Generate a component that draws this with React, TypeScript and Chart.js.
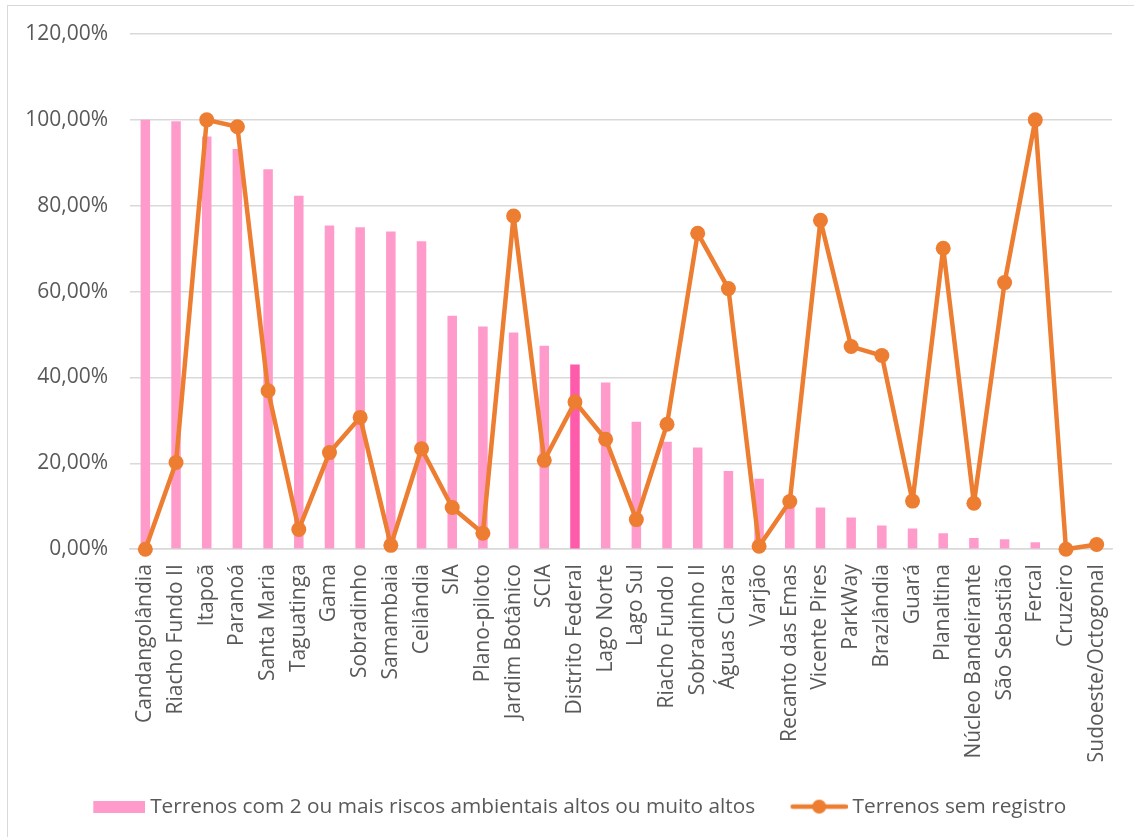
import React, { useEffect, useRef } from "react";
import { Chart, registerables } from "chart.js";

Chart.register(...registerables);

const categories = [
  "Candangolândia", "Riacho Fundo II", "Itapoã", "Paranoá", "Santa Maria", "Taguatinga",
  "Gama", "Sobradinho", "Samambaia", "Ceilândia", "SIA", "Plano-piloto", "Jardim Botânico",
  "SCIA", "Distrito Federal", "Lago Norte", "Lago Sul", "Riacho Fundo I", "Sobradinho II",
  "Águas Claras", "Varjão", "Recanto das Emas", "Vicente Pires", "ParkWay", "Brazlândia",
  "Guará", "Planaltina", "Núcleo Bandeirante", "São Sebastião", "Fercal", "Cruzeiro",
  "Sudoeste/Octogonal",
];

const riscosAltos = [
  100, 99.7, 96.1, 93.2, 88.5, 82.3, 75.4, 75.0, 74.0, 71.7, 54.4, 51.9, 50.5, 47.4, 43.0,
  38.8, 29.7, 25.0, 23.7, 18.2, 16.4, 11.5, 9.7, 7.4, 5.5, 4.8, 3.7, 2.6, 2.3, 1.6, 0, 0,
];

const semRegistro = [
  0, 20.2, 100, 98.4, 36.9, 4.6, 22.5, 30.7, 0.9, 23.4, 9.7, 3.7, 77.6, 20.7, 34.3, 25.6,
  6.9, 29.1, 73.6, 60.7, 0.7, 11.1, 76.6, 47.2, 45.1, 11.2, 70.1, 10.7, 62.1, 100, 0, 1.1,
];

const seriesNames = [
  "Terrenos com 2 ou mais riscos ambientais altos ou muito altos",
  "Terrenos sem registro",
];

const highlightCategory = "Distrito Federal";

const PINK = "#FF9BCB";
const PINK_DARK = "#FF5BAB";
const ORANGE = "#ED7D31";
const TEXT = "#595959";
const GRID = "#D9D9D9";
const FONT = "'Open Sans', 'Noto Sans', sans-serif";
const FONT_SIZE = 21;
const LEGEND_FONT_SIZE = 20.8;

// legend icons: content right-aligned inside a slightly wider transparent canvas
function makeBoxIcon(): HTMLCanvasElement {
  const c = document.createElement("canvas");
  c.width = 63;
  c.height = 12;
  const ctx = c.getContext("2d")!;
  ctx.fillStyle = PINK;
  ctx.fillRect(11, 0, 52, 12);
  return c;
}

function makeLineIcon(): HTMLCanvasElement {
  const c = document.createElement("canvas");
  c.width = 63;
  c.height = 16;
  const ctx = c.getContext("2d")!;
  ctx.strokeStyle = ORANGE;
  ctx.lineWidth = 4.5;
  ctx.lineCap = "round";
  ctx.beginPath();
  ctx.moveTo(8, 8);
  ctx.lineTo(61, 8);
  ctx.stroke();
  ctx.fillStyle = ORANGE;
  ctx.beginPath();
  ctx.arc(34.5, 8, 7, 0, Math.PI * 2);
  ctx.fill();
  return c;
}

// nudges the centred legend so its items sit where the reference places them
const legendShift = {
  id: "legendShift",
  afterLayout(chart: any) {
    if (chart.legend) {
      chart.legend.left += 17.5;
      chart.legend.right += 17.5;
    }
  },
};

export default function App() {
  const ref = useRef<HTMLCanvasElement | null>(null);

  useEffect(() => {
    if (!ref.current) return;
    const icons = [makeBoxIcon(), makeLineIcon()];
    const chart = new Chart(ref.current, {
      type: "bar",
      data: {
        labels: categories,
        datasets: [
          {
            type: "bar",
            label: seriesNames[0],
            data: riscosAltos,
            backgroundColor: categories.map((c) => (c === highlightCategory ? PINK_DARK : PINK)),
            borderWidth: 0,
            categoryPercentage: 1,
            barPercentage: 0.31,
            order: 2,
          },
          {
            type: "line",
            label: seriesNames[1],
            data: semRegistro,
            borderColor: ORANGE,
            backgroundColor: ORANGE,
            borderWidth: 4.5,
            borderJoinStyle: "round",
            borderCapStyle: "round",
            pointRadius: 7.5,
            pointHoverRadius: 7.5,
            pointBorderWidth: 0,
            pointBackgroundColor: ORANGE,
            tension: 0,
            clip: false as any,
            order: 1,
          } as any,
        ],
      },
      plugins: [legendShift],
      options: {
        responsive: false,
        animation: false,
        maintainAspectRatio: false,
        layout: { padding: { top: 29, right: 72, bottom: 10, left: 0 } },
        plugins: {
          tooltip: { enabled: false },
          legend: {
            position: "bottom",
            labels: {
              usePointStyle: true,
              pointStyleWidth: 52,
              padding: 35,
              color: TEXT,
              font: { family: FONT, size: LEGEND_FONT_SIZE },
              generateLabels: (ch: any) =>
                ch.data.datasets.map((ds: any, i: number) => ({
                  text: ds.label,
                  datasetIndex: i,
                  pointStyle: icons[i],
                  fillStyle: i === 0 ? PINK : ORANGE,
                  strokeStyle: i === 0 ? PINK : ORANGE,
                  lineWidth: 0,
                  fontColor: TEXT,
                  hidden: false,
                })),
            },
          },
        },
        scales: {
          x: {
            grid: { display: false, drawTicks: false },
            border: { display: true, color: GRID, width: 1.5 },
            ticks: {
              autoSkip: false,
              minRotation: 90,
              maxRotation: 90,
              padding: 15,
              color: TEXT,
              font: { family: FONT, size: FONT_SIZE },
            },
            afterFit: (scale: any) => {
              scale.height = 212;
            },
          },
          y: {
            min: 0,
            max: 120,
            grid: {
              color: GRID,
              lineWidth: 1.5,
              drawTicks: true,
              tickLength: 17,
              tickColor: "rgba(0,0,0,0)",
            },
            border: { display: false },
            ticks: {
              stepSize: 20,
              padding: 5,
              color: TEXT,
              font: { family: FONT, size: FONT_SIZE },
              callback: (v: any) => Number(v).toFixed(2).replace(".", ",") + "%",
            },
            afterFit: (scale: any) => {
              scale.width = 123;
            },
          },
        },
      },
    });
    return () => chart.destroy();
  }, []);

  return (
    <div
      style={{
        position: "fixed",
        left: 0,
        top: 0,
        width: 1134,
        height: 837,
        overflow: "hidden",
        background: "#fff",
      }}
    >
      <div
        style={{
          position: "absolute",
          left: 7,
          top: 5,
          width: 1200,
          height: 900,
          border: "1.5px solid #D9D9D9",
          boxSizing: "border-box",
        }}
      />
      <canvas
        ref={ref}
        width={1177}
        height={832}
        style={{ position: "absolute", left: 7, top: 5, width: 1177, height: 832 }}
      />
    </div>
  );
}
